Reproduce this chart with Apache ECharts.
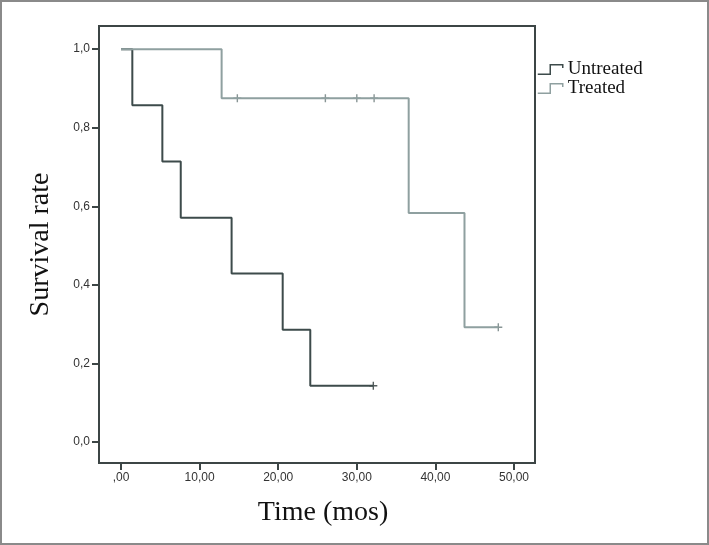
<!DOCTYPE html>
<html>
<head>
<meta charset="utf-8">
<script src="https://cdn.jsdelivr.net/npm/echarts@6/dist/echarts.min.js"></script>
<style>
	html, body { margin: 0; padding: 0; background: #fff; }
	#main { width: 709px; height: 545px; box-sizing: border-box; border: 2px solid #8a8a8a; }
</style>
</head>
<body>
<div id="main"></div>
<script>
// survival steps (time in months, survival rate)
const untreatedTime = [0, 1.44, 5.26, 7.6, 14.07, 20.57, 24.08, 32.1];
const untreatedRate = [1, 0.857, 0.714, 0.571, 0.429, 0.286, 0.143, 0.143];
const treatedTime = [0, 12.8, 36.6, 43.7, 48.0];
const treatedRate = [1, 0.875, 0.583, 0.292, 0.292];

// censored observations
const untreatedCensTime = [32.1];
const untreatedCensRate = [0.143];
const treatedCensTime = [14.8, 26.0, 30.0, 32.2, 48.0];
const treatedCensRate = [0.875, 0.875, 0.875, 0.875, 0.292];

const xTicks = [0, 10, 20, 30, 40, 50];
const yTicks = [0, 0.2, 0.4, 0.6, 0.8, 1.0];

const DARK = '#3d4b4b';
const LIGHT = '#8fa0a0';
const AXIS = '#3c4545';
const PLUS = 'path://M0,5L10,5M5,0L5,10';
const STEP_ICON = 'path://M0,9L12,9L12,0L24,0L24,3';

const zip = (a, b) => a.map((v, i) => [v, b[i]]);

const myChart = echarts.init(document.getElementById('main'), null, { renderer: 'canvas' });

const option = {
	animation: false,
	grid: {
		left: 97, top: 24, width: 436, height: 437,
		show: true, borderColor: AXIS, borderWidth: 2
	},
	legend: {
		left: 530, top: 53,
		orient: 'vertical',
		itemWidth: 25, itemHeight: 10, itemGap: 0,
		textStyle: { fontFamily: 'Liberation Serif', fontSize: 19, lineHeight: 19, color: '#111' },
		data: [
			{ name: 'Untreated', icon: STEP_ICON, itemStyle: { color: 'rgba(0,0,0,0)', borderColor: DARK, borderWidth: 1.5 } },
			{ name: 'Treated', icon: STEP_ICON, itemStyle: { color: 'rgba(0,0,0,0)', borderColor: LIGHT, borderWidth: 1.5 } }
		]
	},
	xAxis: {
		type: 'value',
		min: -2.8, max: 52.67,
		name: 'Time (mos)',
		nameLocation: 'middle',
		nameGap: 36,
		nameTextStyle: { fontFamily: 'Liberation Serif', fontSize: 28, color: '#111', padding: [0, 0, 0, 12] },
		axisLine: { show: true, onZero: false, lineStyle: { color: AXIS, width: 2 } },
		axisTick: { show: true, inside: false, length: 7, customValues: xTicks, lineStyle: { color: AXIS, width: 2 } },
		axisLabel: {
			customValues: xTicks, margin: 9,
			fontFamily: 'Liberation Sans', fontSize: 12, color: '#333',
			formatter: v => v === 0 ? ',00' : v.toFixed(2).replace('.', ',')
		},
		splitLine: { show: false }
	},
	yAxis: {
		type: 'value',
		min: -0.0535, max: 1.059,
		name: 'Survival rate',
		nameLocation: 'middle',
		nameGap: 44,
		nameTextStyle: { fontFamily: 'Liberation Serif', fontSize: 28, color: '#111' },
		axisLine: { show: true, onZero: false, lineStyle: { color: AXIS, width: 2 } },
		axisTick: { show: true, inside: false, length: 7, customValues: yTicks, lineStyle: { color: AXIS, width: 2 } },
		axisLabel: {
			customValues: yTicks, margin: 9,
			fontFamily: 'Liberation Sans', fontSize: 12, color: '#333',
			formatter: v => v.toFixed(1).replace('.', ',')
		},
		splitLine: { show: false }
	},
	series: [
		{
			name: 'Untreated', type: 'line', step: 'end', symbol: 'none',
			data: zip(untreatedTime, untreatedRate),
			lineStyle: { color: DARK, width: 2 }, itemStyle: { color: DARK }
		},
		{
			name: 'Treated', type: 'line', step: 'end', symbol: 'none',
			data: zip(treatedTime, treatedRate),
			lineStyle: { color: LIGHT, width: 2 }, itemStyle: { color: LIGHT }
		},
		{
			name: 'Untreated censored', type: 'scatter', symbol: PLUS, symbolSize: 8,
			data: zip(untreatedCensTime, untreatedCensRate),
			itemStyle: { color: 'rgba(0,0,0,0)', borderColor: '#2a3535', borderWidth: 1.4 }
		},
		{
			name: 'Treated censored', type: 'scatter', symbol: PLUS, symbolSize: 8,
			data: zip(treatedCensTime, treatedCensRate),
			itemStyle: { color: 'rgba(0,0,0,0)', borderColor: '#6a7a7a', borderWidth: 1.4 }
		}
	]
};

myChart.setOption(option);
</script>
</body>
</html>
